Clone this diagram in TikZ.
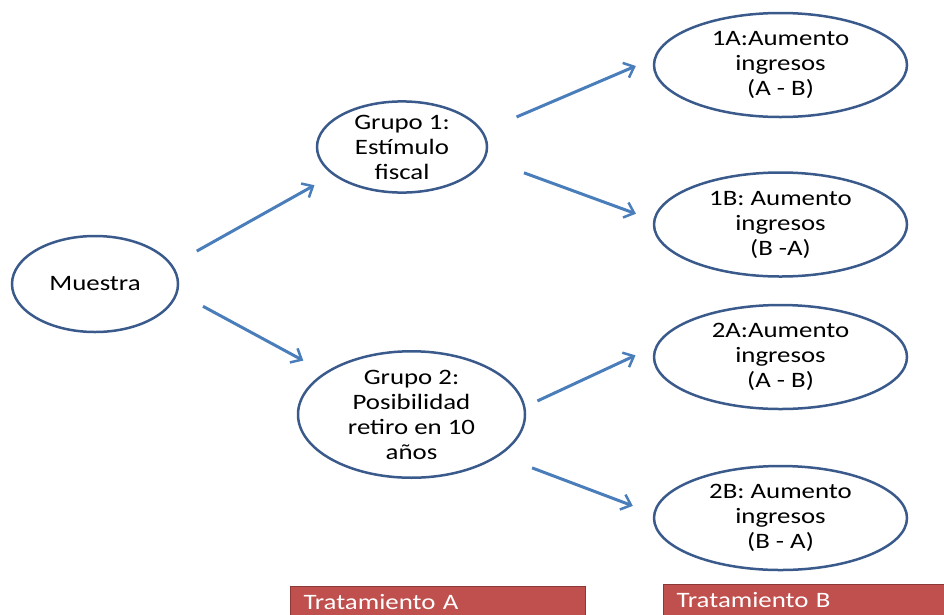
\documentclass[tikz,border=0pt]{standalone}
\usepackage{fontspec}
\setmainfont{Carlito}[FakeStretch=1.22]
\usetikzlibrary{shapes.geometric,arrows.meta}
\definecolor{ellline}{HTML}{3A5A8C}
\definecolor{arrcol}{HTML}{4A7EBB}
\definecolor{boxfill}{HTML}{C0504D}
\definecolor{boxline}{HTML}{8C3836}
\tikzset{
  ell/.style={ellipse, draw=ellline, line width=2.5pt, inner sep=0pt, align=center,
    font=\fontsize{22}{25}\selectfont, text=black},
  leaf/.style={ell, minimum width=253pt, minimum height=104pt},
  arr/.style={draw=arrcol, line width=3pt, -{Straight Barb[length=9pt,width=16pt,line width=2.5pt]}},
  tbox/.style={rectangle, draw=boxline, line width=1pt, fill=boxfill, text=white,
    anchor=north west, inner xsep=13pt, inner ysep=8pt, text width=269pt, align=left,
    font=\fontsize{22}{25}\selectfont}
}
\begin{document}
\begin{tikzpicture}[x=1pt,y=-1pt]
\useasboundingbox (0,0) rectangle (944,614);
\node[ell, minimum width=166pt, minimum height=96pt] (m) at (95,284) {Muestra};
\node[ell, minimum width=170pt, minimum height=90pt] (g1) at (402,147) {Grupo 1:\\Estímulo\\fiscal};
\node[ell, minimum width=227pt, minimum height=95pt] (g2) at (411.5,414.5) {Grupo 2:\\Posibilidad\\retiro en 10\\años};
\node[leaf] (a1) at (780.5,65) {1A:Aumento\\ingresos\\(A - B)};
\node[leaf] (b1) at (780.5,224.5) {1B: Aumento\\ingresos\\(B -A)};
\node[leaf] (a2) at (780.5,357) {2A:Aumento\\ingresos\\(A - B)};
\node[leaf] (b2) at (780.5,518) {2B: Aumento\\ingresos\\(B - A)};
\node[tbox] (ta) at (290,586) {Tratamiento A};
\node[tbox] (tb) at (663,584) {Tratamiento B};
\draw[arr, shorten <=27.8pt, shorten >=21pt] (m.14.7) -- (g1.202.8);
\draw[arr, shorten <=28.5pt, shorten >=24.5pt] (m.354.8) -- (g2.154);
\draw[arr, shorten <=36.3pt, shorten >=19.5pt] (g1.11.4) -- (a1.177);
\draw[arr, shorten <=41pt, shorten >=18.4pt] (g1.352.8) -- (b1.178.6);
\draw[arr, shorten <=13.3pt, shorten >=22pt] (g2.4.7) -- (a2.175.5);
\draw[arr, shorten <=34.5pt, shorten >=21.8pt] (g2.335.9) -- (b2.178.7);
\end{tikzpicture}
\end{document}
